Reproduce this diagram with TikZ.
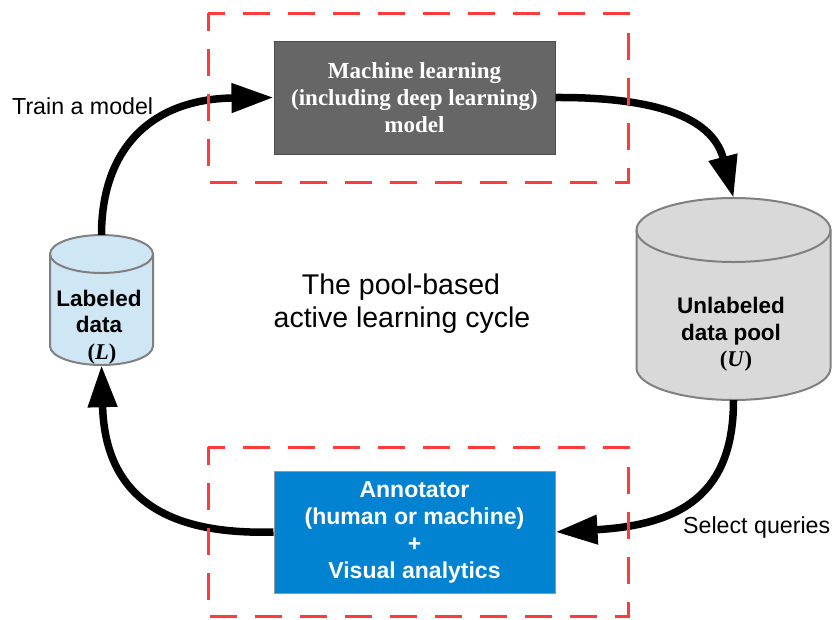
\documentclass[tikz,border=0pt]{standalone}
\usepackage{fontspec}
\setmainfont{Liberation Sans}
\newfontfamily\serifbf{Liberation Serif}
\usetikzlibrary{arrows.meta}

\definecolor{framered}{HTML}{FF3B3B}
\definecolor{mlgrey}{HTML}{666666}
\definecolor{annblue}{HTML}{0283D1}
\definecolor{labblue}{HTML}{CFE6F4}
\definecolor{poolgrey}{HTML}{D9D9D9}
\definecolor{drumline}{HTML}{808080}

% drum (database cylinder): centre x, top-ellipse y, bottom-ellipse y, x radius, y radius, fill
\newcommand{\drawdrum}[6]{%
  \path[fill=#6, draw=drumline, line width=2pt]
    ({#1-#4},#2) -- ({#1-#4},#3)
    .. controls ({#1-#4},{#3+0.5523*#5}) and ({#1-0.5523*#4},{#3+#5}) .. (#1,{#3+#5})
    .. controls ({#1+0.5523*#4},{#3+#5}) and ({#1+#4},{#3+0.5523*#5}) .. ({#1+#4},#3)
    -- ({#1+#4},#2)
    .. controls ({#1+#4},{#2-0.5523*#5}) and ({#1+0.5523*#4},{#2-#5}) .. (#1,{#2-#5})
    .. controls ({#1-0.5523*#4},{#2-#5}) and ({#1-#4},{#2-0.5523*#5}) .. ({#1-#4},#2)
    -- cycle;
  \draw[drumline, line width=2pt]
    ({#1-#4},#2)
    .. controls ({#1-#4},{#2+0.5523*#5}) and ({#1-0.5523*#4},{#2+#5}) .. (#1,{#2+#5})
    .. controls ({#1+0.5523*#4},{#2+#5}) and ({#1+#4},{#2+0.5523*#5}) .. ({#1+#4},#2);
}

\begin{document}
\begin{tikzpicture}[x=1pt,y=-1pt,
  frame/.style={draw=framered, line width=3pt, dash pattern=on 27pt off 18pt, dash phase=9pt},
  flow/.style={line width=7.5pt, -{Triangle[length=42pt,width=28pt]}},
  box/.style={rectangle, inner sep=0pt, text=white, align=center,
    minimum width=281pt},
  drumspot/.style={rectangle, inner sep=0pt},
  drumtext/.style={align=center, inner sep=0pt,
    font=\bfseries\fontsize{22.5}{26.5}\selectfont},
  caption/.style={inner sep=0pt, font=\fontsize{23.2}{26}\selectfont}
]
\useasboundingbox (0,0) rectangle (832,619);

% data stores
\drawdrum{101.5}{254}{346}{51.5}{19}{labblue}
\node[drumspot, minimum width=103pt, minimum height=130pt] (lab) at (101.5,300) {};
\node[drumtext] (labtext) at (99,327) {Labeled\\data\\\hspace*{6pt}{\serifbf(\textit{L})}};

\drawdrum{733.5}{230}{368}{97}{32}{poolgrey}
\node[drumspot, minimum width=194pt, minimum height=202pt] (pool) at (733.5,299) {};
\node[drumtext] (pooltext) at (731,334.5) {Unlabeled\\data pool\\\hspace*{10pt}{\serifbf(\textit{U})}};

% process boxes
\node[box, fill=mlgrey, draw=mlgrey!75!black, line width=1pt, minimum height=113pt,
  font=\serifbf\bfseries\fontsize{23}{27}\selectfont] (ml) at (414.5,97.5)
  {Machine learning\\(including deep learning)\\model};
\node[box, fill=annblue, draw=drumline!80, line width=1pt, minimum height=122pt,
  font=\bfseries\fontsize{23}{27}\selectfont] (ann) at (414.5,532)
  {Annotator\\(human or machine)\\+\\Visual analytics};

% cycle centre caption
\node[align=center, inner sep=0pt, font=\fontsize{28.5}{33}\selectfont] (cycle) at (401,303.5)
  {The pool-based\\\hspace*{2pt}active learning cycle};

% the active learning loop
\draw[flow] (lab.north) .. controls (101.5,150) and (150,99) .. (ml.west);
\draw[flow] (ml.east) .. controls (650,97) and (712,115) .. (pool.north);
\draw[flow] (pool.south) .. controls (733.5,495) and (680,525) .. (ann.east);
\draw[flow] (ann.west) .. controls (170,535) and (105,500) .. (lab.south);

% edge captions
\node[caption, anchor=base west] (train) at (12,114) {Train a model};
\node[caption, anchor=base west] (select) at (683,533) {Select queries};

% dashed groupings
\draw[frame] (208,13) rectangle (628,182);
\draw[frame] (208,447) rectangle (628,616);
\end{tikzpicture}
\end{document}
